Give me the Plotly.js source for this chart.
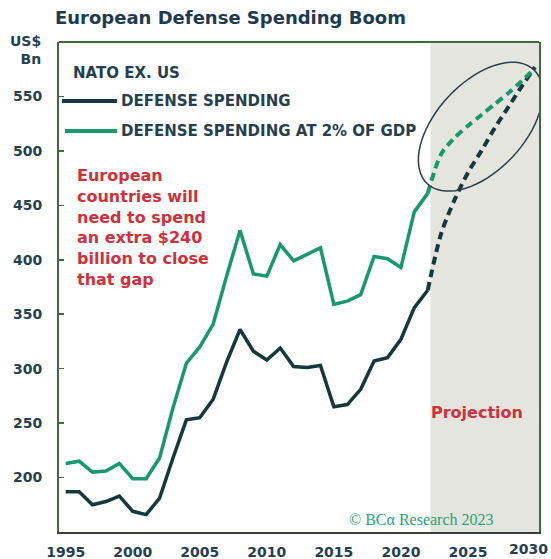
<!DOCTYPE html>
<html>
<head>
<meta charset="utf-8">
<script src="https://cdn.plot.ly/plotly-3.0.1.min.js"></script>
<style>html,body{margin:0;padding:0;background:#fff;}#chart{width:551px;height:559px;}</style>
</head>
<body>
<div id="chart"></div>
<script>
// ---- data ----
const years = [1995,1996,1997,1998,1999,2000,2001,2002,2003,2004,2005,2006,2007,2008,2009,2010,2011,2012,2013,2014,2015,2016,2017,2018,2019,2020,2021,2022];
const defenseSpending = [187,187,175,178,183,169,166,181,218,253,255,272,306,336,316,308,319,302,301,303,265,267,281,307,310,327,356,372];
const spendingAt2pct = [213,215,205,206,213,199,199,218,264,305,320,341,385,427,387,385,414,399,405,411,359,362,368,403,401,393,444,461];
const projYears = [2022,2023,2024,2025,2026,2027,2028,2029,2030];
const projDefense = [372,424,455,480,500,521,540,559,577];
const projAt2pct = [461,497,512,523,533,543,553,564,576];
const xTicks = [1995,2000,2005,2010,2015,2020,2025,2030];
const yTicks = [200,250,300,350,400,450,500,550];
const projectionStart = 2022.2;

// ---- style ----
const DARK = '#15383b';
const GREEN = '#17996c';
const RED = '#d0303c';
const TXT = '#263f4f';
const FONT = 'DejaVu Sans';
const W = 551, H = 559;
const M = {l: 59, r: 12, t: 42, b: 27};
const xRange = [1994.5, 2030.3];
const yRange = [150, 600];

const traces = [
  {x: years, y: defenseSpending, mode: 'lines', line: {color: DARK, width: 3.5}, name: 'DEFENSE SPENDING', showlegend: false, hoverinfo: 'skip'},
  {x: years, y: spendingAt2pct, mode: 'lines', line: {color: GREEN, width: 3.5}, name: 'DEFENSE SPENDING AT 2% OF GDP', showlegend: false, hoverinfo: 'skip'},
  {x: projYears, y: projDefense, mode: 'lines', line: {color: DARK, width: 4, dash: '8px,5px', shape: 'spline', smoothing: 0.8}, showlegend: false, hoverinfo: 'skip'},
  {x: projYears, y: projAt2pct, mode: 'lines', line: {color: GREEN, width: 4, dash: '8px,5px', shape: 'spline', smoothing: 0.8}, showlegend: false, hoverinfo: 'skip'}
];

// ellipse highlighting the projection gap (pixel radii converted to data units)
const plotW = W - M.l - M.r, plotH = H - M.t - M.b;
const pxPerYear = plotW / (xRange[1] - xRange[0]);
const pxPerVal = plotH / (yRange[1] - yRange[0]);
const ec = {x: 2025.94, y: 522.2}, ea = 78, eb = 44, eth = 47 * Math.PI / 180;
let path = '';
for (let i = 0; i <= 72; i++) {
  const t = i / 72 * 2 * Math.PI;
  const px = ea * Math.cos(t) * Math.cos(eth) - eb * Math.sin(t) * Math.sin(eth);
  const py = ea * Math.cos(t) * Math.sin(eth) + eb * Math.sin(t) * Math.cos(eth);
  const X = ec.x + px / pxPerYear, Y = ec.y + py / pxPerVal;
  path += (i === 0 ? 'M' : 'L') + X.toFixed(4) + ',' + Y.toFixed(3);
}
path += 'Z';

const px2x = p => (p - M.l) / plotW;
const px2y = p => (H - M.b - p) / plotH;
const tickFont = {family: FONT, size: 14, weight: 'bold', color: TXT};
const lastTick = xTicks[xTicks.length - 1];

const layout = {
  width: W, height: H,
  margin: M,
  paper_bgcolor: '#ffffff', plot_bgcolor: '#ffffff',
  showlegend: false,
  title: {text: 'European Defense Spending Boom', xref: 'container', yref: 'container', x: 55 / W, xanchor: 'left', y: 1 - 18 / H, yanchor: 'middle',
          font: {family: FONT, size: 18, weight: 'bold', color: '#1d3b50'}},
  xaxis: {range: xRange, tickvals: xTicks.slice(0, -1), ticktext: xTicks.slice(0, -1).map(String), ticks: '', showgrid: false, zeroline: false,
          showline: true, linecolor: '#3a3f3a', linewidth: 2, mirror: false,
          tickfont: tickFont, ticklabelstandoff: 6},
  yaxis: {range: yRange, tickvals: yTicks, ticks: 'inside', ticklen: 5, tickcolor: '#3d6b3d', tickwidth: 1.5,
          showgrid: false, zeroline: false, showline: true, linecolor: '#3d6b3d', linewidth: 2, mirror: true,
          tickfont: tickFont, ticklabelstandoff: 12},
  shapes: [
    {type: 'rect', xref: 'x', yref: 'paper', x0: projectionStart, x1: xRange[1], y0: 0, y1: 1, fillcolor: '#e5e5e0', line: {width: 0}, layer: 'below'},
    {type: 'line', xref: 'paper', yref: 'paper', x0: 0, x1: 1, y0: 1, y1: 1, line: {color: '#3d6b3d', width: 2}},
    {type: 'path', xref: 'x', yref: 'y', path: path, line: {color: '#2b3d45', width: 1.5}, fillcolor: 'rgba(0,0,0,0)'},
    {type: 'line', xref: 'paper', yref: 'paper', x0: px2x(62), x1: px2x(117), y0: px2y(101), y1: px2y(101), line: {color: DARK, width: 4}},
    {type: 'line', xref: 'paper', yref: 'paper', x0: px2x(65), x1: px2x(117), y0: px2y(131), y1: px2y(131), line: {color: GREEN, width: 4}}
  ],
  annotations: [
    // last x tick label, nudged left so it stays inside the picture
    {text: String(lastTick), xref: 'x', yref: 'paper', x: lastTick, y: px2y(549), xanchor: 'center', yanchor: 'middle', xshift: -6, showarrow: false, font: tickFont},
    {text: 'US$<br>Bn', xref: 'paper', yref: 'paper', x: px2x(43), y: px2y(50), xanchor: 'right', yanchor: 'middle', align: 'right', showarrow: false,
     font: {family: FONT, size: 14, weight: 'bold', color: TXT}},
    {text: 'NATO EX. US', xref: 'paper', yref: 'paper', x: px2x(71), y: px2y(73), xanchor: 'left', yanchor: 'middle', showarrow: false,
     font: {family: FONT, size: 15, weight: 'bold', color: TXT}},
    {text: 'DEFENSE SPENDING', xref: 'paper', yref: 'paper', x: px2x(119), y: px2y(101), xanchor: 'left', yanchor: 'middle', showarrow: false,
     font: {family: FONT, size: 15, weight: 'bold', color: TXT}},
    {text: 'DEFENSE SPENDING AT 2% OF GDP', xref: 'paper', yref: 'paper', x: px2x(119), y: px2y(131), xanchor: 'left', yanchor: 'middle', showarrow: false,
     font: {family: FONT, size: 15, weight: 'bold', color: TXT}},
    {text: 'European<br>countries will<br>need to spend<br>an extra $240<br>billion to close<br>that gap', xref: 'paper', yref: 'paper', x: px2x(75), y: px2y(227),
     xanchor: 'left', yanchor: 'middle', align: 'left', showarrow: false, font: {family: FONT, size: 16, weight: 'bold', color: RED}},
    {text: 'Projection', xref: 'paper', yref: 'paper', x: px2x(429), y: px2y(412), xanchor: 'left', yanchor: 'middle', showarrow: false,
     font: {family: FONT, size: 16, weight: 'bold', color: RED}},
    {text: '© BCα Research 2023', xref: 'paper', yref: 'paper', x: px2x(347), y: px2y(519), xanchor: 'left', yanchor: 'middle', showarrow: false,
     font: {family: 'Liberation Serif', size: 16, color: '#27a277'}}
  ]
};

Plotly.newPlot('chart', traces, layout, {displayModeBar: false, staticPlot: true});
</script>
</body>
</html>
